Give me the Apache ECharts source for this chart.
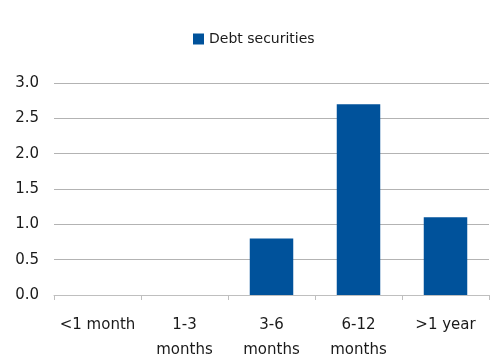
<!DOCTYPE html>
<html>
<head>
<meta charset="utf-8">
<script src="https://cdn.jsdelivr.net/npm/echarts@6/dist/echarts.min.js"></script>
<style>
    html, body { margin: 0; padding: 0; background: #fff; }
    #chart { width: 500px; height: 356px; }
</style>
</head>
<body>
<div id="chart"></div>
<script>
    // data
    var categories = ['<1 month', '1-3\nmonths', '3-6\nmonths', '6-12\nmonths', '>1 year'];
    var debtSecurities = [0, 0, 0.8, 2.7, 1.1];
    var seriesName = 'Debt securities';

    var myChart = echarts.init(document.getElementById('chart'));
    myChart.setOption({
        animation: false,
        textStyle: { fontFamily: 'DejaVu Sans', color: '#1a1a1a' },
        legend: {
            top: 32,
            left: 193,
            padding: 0,
            itemWidth: 11,
            itemHeight: 11,
            textStyle: { fontSize: 14, color: '#1a1a1a' },
            data: [{ name: seriesName, icon: 'rect' }]
        },
        grid: {
            left: 54,
            right: 11,
            top: 83,
            bottom: 61,
            containLabel: false,
            outerBoundsMode: 'none'
        },
        xAxis: {
            type: 'category',
            data: categories,
            axisLine: { lineStyle: { color: '#bfbfbf', width: 1 } },
            axisTick: { show: true, length: 5, alignWithLabel: false, lineStyle: { color: '#bfbfbf' } },
            axisLabel: { fontSize: 15, color: '#1a1a1a', margin: 18, lineHeight: 25, interval: 0 }
        },
        yAxis: {
            type: 'value',
            min: 0,
            max: 3,
            interval: 0.5,
            axisLine: { show: false },
            axisTick: { show: false },
            splitLine: { lineStyle: { color: '#b3b3b3', width: 1 } },
            axisLabel: {
                fontSize: 15,
                color: '#1a1a1a',
                margin: 15,
                formatter: function (v) { return v.toFixed(1); }
            }
        },
        series: [{
            name: seriesName,
            type: 'bar',
            data: debtSecurities,
            barWidth: '50%',
            itemStyle: { color: '#00529b' }
        }]
    });
</script>
</body>
</html>
